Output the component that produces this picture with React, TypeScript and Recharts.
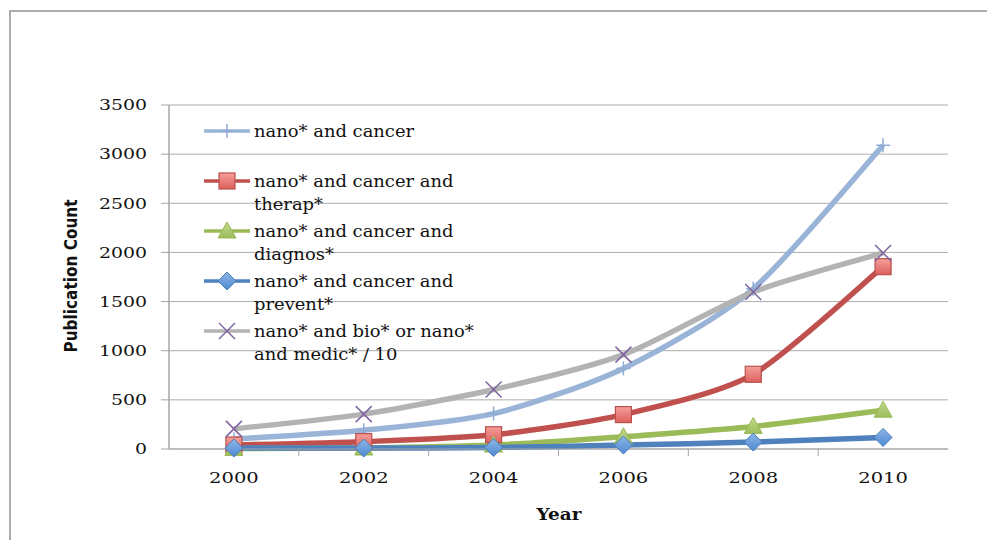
import React from 'react';
import { LineChart, Line, XAxis, YAxis, CartesianGrid, Legend, Label } from 'recharts';

const years = [2000, 2002, 2004, 2006, 2008, 2010];
const nanoCancer = [100, 190, 360, 820, 1630, 3090];
const nanoTherap = [40, 75, 145, 350, 760, 1855];
const nanoDiagnos = [5, 10, 40, 125, 230, 395];
const nanoPrevent = [10, 10, 15, 40, 70, 118];
const nanoBioMedic = [205, 355, 605, 960, 1598, 1995];

const seriesNames = [
  'nano* and cancer',
  'nano* and cancer and therap*',
  'nano* and cancer and diagnos*',
  'nano* and cancer and prevent*',
  'nano* and bio* or nano* and medic* / 10',
];
const legendLines = [
  ['nano* and cancer'],
  ['nano* and cancer and', 'therap*'],
  ['nano* and cancer and', 'diagnos*'],
  ['nano* and cancer and', 'prevent*'],
  ['nano* and bio* or nano*', 'and medic* / 10'],
];
const yTicks = [0, 500, 1000, 1500, 2000, 2500, 3000, 3500];
const xTicks = [2000, 2001, 2002, 2003, 2004, 2005, 2006, 2007, 2008, 2009, 2010];

const data = years.map((y, i) => ({
  year: y,
  s1: nanoCancer[i],
  s2: nanoTherap[i],
  s3: nanoDiagnos[i],
  s4: nanoPrevent[i],
  s5: nanoBioMedic[i],
}));

const COLORS = {
  s1: '#9AB4D8',
  s2: '#C0504D',
  s3: '#9BBB59',
  s4: '#4F81BD',
  s5: '#B3B3B3',
};

const SERIF = "'DejaVu Serif', 'Liberation Serif', serif";

// Excel-like smoothing (Catmull-Rom style cubic Bezier, slightly tightened)
const SMOOTH = 1 / 8;
const excelSmooth: any = (context: any) => {
  let pts: number[][] = [];
  return {
    areaStart() {},
    areaEnd() {},
    lineStart() {
      pts = [];
    },
    point(x: number, y: number) {
      pts.push([+x, +y]);
    },
    lineEnd() {
      const n = pts.length;
      if (!n) return;
      context.moveTo(pts[0][0], pts[0][1]);
      for (let i = 0; i < n - 1; i++) {
        const p0 = pts[i - 1] || pts[i];
        const p1 = pts[i];
        const p2 = pts[i + 1];
        const p3 = pts[i + 2] || pts[i + 1];
        const c1x = p1[0] + (p2[0] - p0[0]) * SMOOTH;
        const c1y = p1[1] + (p2[1] - p0[1]) * SMOOTH;
        const c2x = p2[0] - (p3[0] - p1[0]) * SMOOTH;
        const c2y = p2[1] - (p3[1] - p1[1]) * SMOOTH;
        context.bezierCurveTo(c1x, c1y, c2x, c2y, p2[0], p2[1]);
      }
    },
  };
};

type MP = { cx: number; cy: number };

const PlusMarker = ({ cx, cy }: MP) => (
  <g>
    <line x1={cx - 7} y1={cy} x2={cx + 7} y2={cy} stroke="#8FAAD3" strokeWidth={1.5} />
    <line x1={cx} y1={cy - 7} x2={cx} y2={cy + 7} stroke="#8FAAD3" strokeWidth={1.5} />
  </g>
);
const SquareMarker = ({ cx, cy }: MP) => (
  <rect x={cx - 8} y={cy - 8} width={16} height={16} fill="url(#gradRed)" stroke="#B9504C" strokeWidth={1.2} />
);
const TriangleMarker = ({ cx, cy }: MP) => (
  <polygon points={`${cx},${cy - 9} ${cx + 9},${cy + 7} ${cx - 9},${cy + 7}`} fill="url(#gradGreen)" stroke="#98B954" strokeWidth={1} />
);
const DiamondMarker = ({ cx, cy }: MP) => (
  <polygon points={`${cx},${cy - 9} ${cx + 9},${cy} ${cx},${cy + 9} ${cx - 9},${cy}`} fill="url(#gradBlue)" stroke="#4A7EBB" strokeWidth={1} />
);
const XMarker = ({ cx, cy }: MP) => (
  <g>
    <line x1={cx - 8} y1={cy - 8} x2={cx + 8} y2={cy + 8} stroke="#7F63A1" strokeWidth={1.5} />
    <line x1={cx - 8} y1={cy + 8} x2={cx + 8} y2={cy - 8} stroke="#7F63A1" strokeWidth={1.5} />
  </g>
);

const markers = [PlusMarker, SquareMarker, TriangleMarker, DiamondMarker, XMarker];
const keys = ['s1', 's2', 's3', 's4', 's5'] as const;

const makeDot = (M: any) => (props: any) => {
  const { cx, cy, index } = props;
  if (cx == null || cy == null) return <g key={`d-${index}`} />;
  return <g key={`d-${index}`}><M cx={cx} cy={cy} /></g>;
};

const YTick = (props: any) => {
  const { x, y, payload } = props;
  return (
    <text
      x={x}
      y={y}
      textAnchor="end"
      dominantBaseline="central"
      fontFamily={SERIF}
      fontSize={15}
      fill="#111"
      transform={`translate(${x},${y}) scale(1.26,1) translate(${-x},${-y})`}
    >
      {payload.value}
    </text>
  );
};

const XTick = (props: any) => {
  const { x, y, payload } = props;
  if (payload.value % 2 === 1) {
    return <line x1={x} y1={y} x2={x} y2={y + 7} stroke="#A6A6A6" strokeWidth={1} />;
  }
  const ty = y + 29;
  return (
    <text
      x={x}
      y={ty}
      textAnchor="middle"
      dominantBaseline="central"
      fontFamily={SERIF}
      fontSize={15.5}
      fill="#111"
      transform={`translate(${x},${ty}) scale(1.26,1) translate(${-x},${-ty})`}
    >
      {payload.value}
    </text>
  );
};

const LegendSample = ({ i }: { i: number }) => {
  const M = markers[i];
  const k = keys[i];
  return (
    <svg width={50} height={20} style={{ display: 'block', overflow: 'visible' }}>
      <line x1={2} y1={10} x2={48} y2={10} stroke={(COLORS as any)[k]} strokeWidth={3.5} />
      <M cx={25} cy={10} />
    </svg>
  );
};

const CustomLegend = () => (
  <div style={{ position: 'relative', width: 0, height: 0 }}>
    {legendLines.map((lines, i) => (
      <div key={i} style={{ position: 'absolute', left: 202, top: 121 + 50 * i, display: 'flex', alignItems: 'flex-start' }}>
        <LegendSample i={i} />
        <div
          style={{
            marginLeft: 2,
            fontFamily: SERIF,
            fontSize: 16,
            lineHeight: '23px',
            marginTop: -1.5,
            color: '#111',
            transform: 'scaleX(1.12)',
            transformOrigin: 'left top',
            whiteSpace: 'nowrap',
          }}
        >
          {lines.map((l, j) => (
            <div key={j}>{l}</div>
          ))}
        </div>
      </div>
    ))}
  </div>
);

export default function App() {
  return (
    <div style={{ position: 'relative', margin: -8, width: 995, height: 548, background: '#fff', overflow: 'hidden' }}>
      <div style={{ position: 'absolute', left: 9, top: 10, width: 986, height: 2, background: '#ABABAB' }} />
      <div style={{ position: 'absolute', left: 9, top: 10, width: 2, height: 538, background: '#ABABAB' }} />
      <LineChart width={995} height={548} data={data} margin={{ top: 105, right: 47, bottom: 39, left: 0 }}>
        <defs>
          <linearGradient id="gradRed" x1="0" y1="0" x2="0" y2="1">
            <stop offset="0%" stopColor="#F4A09C" />
            <stop offset="100%" stopColor="#DE5F5B" />
          </linearGradient>
          <linearGradient id="gradGreen" x1="0" y1="0" x2="0" y2="1">
            <stop offset="0%" stopColor="#C2DA8E" />
            <stop offset="100%" stopColor="#9CBD5B" />
          </linearGradient>
          <linearGradient id="gradBlue" x1="0" y1="0" x2="0" y2="1">
            <stop offset="0%" stopColor="#8DB5E6" />
            <stop offset="100%" stopColor="#4F8AD2" />
          </linearGradient>
        </defs>
        <CartesianGrid vertical={false} stroke="#ADADAD" strokeWidth={1} />
        <XAxis
          dataKey="year"
          type="number"
          domain={[1999, 2011]}
          ticks={xTicks}
          interval={0}
          height={60}
          tickSize={0}
          tickMargin={0}
          tickLine={false}
          axisLine={{ stroke: '#A6A6A6', strokeWidth: 1 }}
          tick={<XTick />}
        >
          <Label
            content={() => (
              <text
                x={559}
                y={514}
                textAnchor="middle"
                dominantBaseline="central"
                fontFamily={SERIF}
                fontWeight="bold"
                fontSize={16}
                fill="#111"
                transform="translate(559,514) scale(1.15,1) translate(-559,-514)"
              >
                Year
              </text>
            )}
          />
        </XAxis>
        <YAxis
          type="number"
          domain={[0, 3500]}
          ticks={yTicks}
          interval={0}
          width={169}
          tickSize={8}
          tickMargin={14}
          tickLine={{ stroke: '#A6A6A6' }}
          axisLine={{ stroke: '#A6A6A6', strokeWidth: 1.5 }}
          tick={<YTick />}
        >
          <Label
            content={() => (
              <text
                x={71}
                y={276}
                textAnchor="middle"
                dominantBaseline="central"
                fontFamily="'Liberation Sans Narrow', 'DejaVu Sans Condensed', sans-serif"
                fontWeight="bold"
                fontSize={17}
                fill="#111"
                transform="rotate(-90, 71, 276)"
              >
                Publication Count
              </text>
            )}
          />
        </YAxis>
        <Legend
          content={<CustomLegend />}
          layout="vertical"
          align="center"
          verticalAlign="middle"
          wrapperStyle={{ left: 0, top: 0, width: 0, height: 0 }}
        />
        {keys.map((k, i) => (
          <Line
            key={k}
            type={excelSmooth}
            dataKey={k}
            name={seriesNames[i]}
            stroke={(COLORS as any)[k]}
            strokeWidth={5.5}
            dot={makeDot(markers[i])}
            activeDot={false}
            isAnimationActive={false}
          />
        ))}
      </LineChart>
    </div>
  );
}
